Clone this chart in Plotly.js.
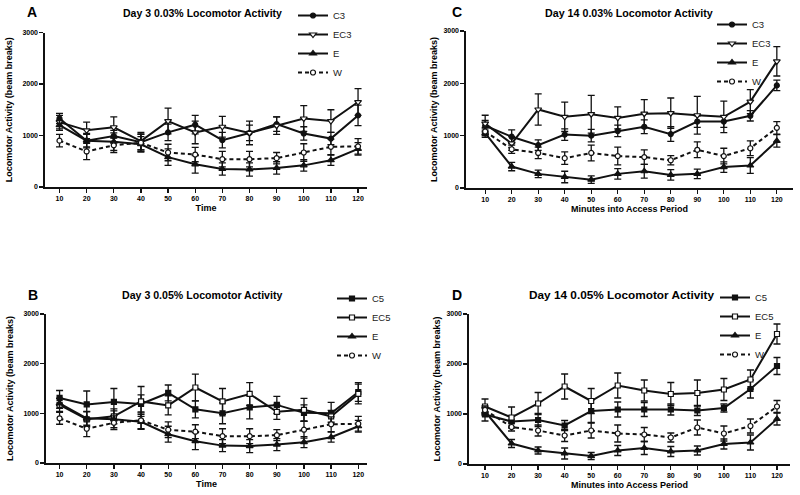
<!DOCTYPE html>
<html>
<head>
<meta charset="utf-8">
<script src="https://cdn.plot.ly/plotly-3.0.1.min.js"></script>
<style>html,body{margin:0;padding:0;background:#fff;}#chart{width:800px;height:495px;}</style>
</head>
<body>
<div id="chart"></div>
<script>
// ---- data ----
const minutes = [10, 20, 30, 40, 50, 60, 70, 80, 90, 100, 110, 120];
const tickVals = [10, 20, 30, 40, 50, 60, 70, 80, 90, 100, 110, 120];
const yTicks = [0, 1000, 2000, 3000];

// Day 3 shared groups
const d3_E = [1200, 900, 880, 830, 580, 440, 350, 340, 370, 420, 520, 740];
const d3_E_err = [100, 140, 170, 150, 160, 170, 120, 130, 120, 110, 100, 120];
const d3_W = [900, 690, 810, 860, 670, 630, 540, 540, 560, 670, 780, 790];
const d3_W_err = [120, 160, 140, 170, 160, 140, 150, 150, 110, 170, 150, 150];
// Panel A
const d3_C3 = [1330, 900, 990, 870, 1060, 1210, 910, 1050, 1220, 1040, 940, 1390];
const d3_C3_err = [100, 120, 110, 150, 160, 180, 150, 150, 140, 130, 120, 200];
const d3_EC3 = [1260, 1100, 1160, 890, 1280, 1060, 1170, 1050, 1190, 1330, 1280, 1650];
const d3_EC3_err = [130, 160, 200, 170, 250, 220, 200, 230, 170, 250, 220, 260];
// Panel B
const d3_C5 = [1310, 1180, 1230, 1190, 1410, 1080, 1000, 1120, 1170, 1010, 1000, 1430];
const d3_C5_err = [150, 270, 270, 180, 160, 170, 210, 230, 170, 160, 220, 190];
const d3_EC5 = [1170, 880, 940, 1240, 1160, 1520, 1240, 1390, 1030, 1070, 940, 1390];
const d3_EC5_err = [130, 150, 150, 300, 190, 270, 260, 230, 150, 230, 120, 200];

// Day 14 shared groups
const d14_E = [1050, 410, 270, 210, 160, 270, 320, 250, 270, 400, 430, 900];
const d14_E_err = [80, 80, 70, 110, 70, 100, 130, 100, 90, 100, 150, 120];
const d14_W = [1080, 740, 670, 570, 670, 610, 590, 530, 730, 610, 760, 1150];
const d14_W_err = [80, 80, 110, 120, 150, 170, 140, 90, 150, 150, 140, 120];
// Panel C
const d14_C3 = [1190, 980, 820, 1020, 1000, 1090, 1170, 1030, 1270, 1270, 1380, 1960];
const d14_C3_err = [100, 130, 100, 110, 120, 110, 130, 140, 110, 110, 100, 100];
const d14_EC3 = [1230, 850, 1500, 1360, 1410, 1340, 1420, 1430, 1390, 1360, 1650, 2420];
const d14_EC3_err = [160, 130, 300, 280, 360, 210, 270, 290, 360, 300, 230, 280];
// Panel D
const d14_C5 = [990, 850, 880, 770, 1060, 1090, 1090, 1090, 1070, 1120, 1500, 1960];
const d14_C5_err = [130, 110, 130, 100, 230, 150, 140, 110, 100, 80, 180, 170];
const d14_EC5 = [1150, 930, 1210, 1550, 1260, 1570, 1470, 1400, 1420, 1490, 1690, 2600];
const d14_EC5_err = [150, 210, 220, 250, 250, 250, 210, 230, 260, 220, 190, 200];

const panelTitles = ['Day 3 0.03% Locomotor Activity', 'Day 3 0.05% Locomotor Activity',
                     'Day 14 0.03% Locomotor Activity', 'Day 14 0.05% Locomotor Activity'];
const panelLetters = ['A', 'B', 'C', 'D'];
const xTitles = ['Time', 'Time', 'Minutes into Access Period', 'Minutes into Access Period'];
const yTitle = 'Locomotor Activity (beam breaks)';

// ---- styling helpers ----
const FONT = 'Liberation Sans, Arial, Helvetica, sans-serif';
const INK = '#000';
const W = 800, H = 495;
const px = v => v / W;
const py = v => 1 - v / H;

function series(name, y, err, symbol, open, dash, ax, leg) {
  return {
    type: 'scatter', mode: 'lines+markers', name: name,
    x: minutes, y: y,
    xaxis: 'x' + ax, yaxis: 'y' + ax, legend: leg,
    line: {color: '#111', width: 2, dash: dash ? '4px,3px' : 'solid'},
    marker: {symbol: symbol, size: symbol.indexOf('triangle') === 0 ? 6 : 5,
             color: open ? '#fff' : '#111', line: {color: '#111', width: 1.2}},
    error_y: {type: 'data', array: err, visible: true, color: '#111', thickness: 1.3, width: 3.5},
    cliponaxis: false
  };
}

const data = [
  series('C3', d3_C3, d3_C3_err, 'circle', false, false, '', 'legend'),
  series('EC3', d3_EC3, d3_EC3_err, 'triangle-down', true, false, '', 'legend'),
  series('E', d3_E, d3_E_err, 'triangle-up', false, false, '', 'legend'),
  series('W', d3_W, d3_W_err, 'circle', true, true, '', 'legend'),

  series('C5', d3_C5, d3_C5_err, 'square', false, false, '2', 'legend2'),
  series('EC5', d3_EC5, d3_EC5_err, 'square', true, false, '2', 'legend2'),
  series('E', d3_E, d3_E_err, 'triangle-up', false, false, '2', 'legend2'),
  series('W', d3_W, d3_W_err, 'circle', true, true, '2', 'legend2'),

  series('C3', d14_C3, d14_C3_err, 'circle', false, false, '3', 'legend3'),
  series('EC3', d14_EC3, d14_EC3_err, 'triangle-down', true, false, '3', 'legend3'),
  series('E', d14_E, d14_E_err, 'triangle-up', false, false, '3', 'legend3'),
  series('W', d14_W, d14_W_err, 'circle', true, true, '3', 'legend3'),

  series('C5', d14_C5, d14_C5_err, 'square', false, false, '4', 'legend4'),
  series('EC5', d14_EC5, d14_EC5_err, 'square', true, false, '4', 'legend4'),
  series('E', d14_E, d14_E_err, 'triangle-up', false, false, '4', 'legend4'),
  series('W', d14_W, d14_W_err, 'circle', true, true, '4', 'legend4')
];
// the first panel uses axes 'x'/'y'
data.slice(0, 4).forEach(t => { t.xaxis = 'x'; t.yaxis = 'y'; });

function xAxis(domain, range, anchor, title) {
  return {
    domain: domain, range: range, anchor: anchor,
    tickmode: 'array', tickvals: tickVals, ticktext: tickVals.map(String),
    showline: true, linecolor: '#111', linewidth: 1.6, mirror: false,
    ticks: 'outside', ticklen: 4, tickwidth: 1.3, tickcolor: '#111',
    showgrid: false, zeroline: false,
    tickfont: {family: FONT, size: 7, color: INK, weight: 'bold'},
    title: {text: title, font: {family: FONT, size: 9, color: INK, weight: 'bold'}, standoff: 3}
  };
}
function yAxis(domain, anchor, standoff) {
  return {
    domain: domain, range: [0, 3000], anchor: anchor,
    tickmode: 'array', tickvals: yTicks, ticktext: yTicks.map(String),
    showline: true, linecolor: '#111', linewidth: 1.6,
    ticks: 'outside', ticklen: 4, tickwidth: 1.3, tickcolor: '#111',
    showgrid: false, zeroline: false,
    tickfont: {family: FONT, size: 7, color: INK, weight: 'bold'},
    title: {text: yTitle, font: {family: FONT, size: 9, color: INK, weight: 'bold'}, standoff: standoff}
  };
}
function legendAt(left, top) {
  return {x: px(left), y: py(top), xanchor: 'left', yanchor: 'top',
          bgcolor: 'rgba(0,0,0,0)', borderwidth: 0,
          font: {family: FONT, size: 9.5, color: '#222'}, itemclick: false};
}

const titleAnn = [
  {t: panelTitles[0], x: 203, y: 13, s: 10.5},
  {t: panelTitles[1], x: 202, y: 295, s: 10.6},
  {t: panelTitles[2], x: 629, y: 13, s: 10.7},
  {t: panelTitles[3], x: 622, y: 295, s: 11.8}
].map(a => ({text: a.t, x: px(a.x), y: py(a.y), xref: 'paper', yref: 'paper',
  xanchor: 'center', yanchor: 'middle', showarrow: false,
  font: {family: FONT, size: a.s, color: INK, weight: 'bold'}}));
const letterPos = [[32, 12], [33, 295], [457, 12], [457, 295]];
const letterAnn = panelLetters.map((l, i) => ({text: l, x: px(letterPos[i][0]), y: py(letterPos[i][1]),
  xref: 'paper', yref: 'paper', xanchor: 'center', yanchor: 'middle', showarrow: false,
  font: {family: FONT, size: 14, color: INK, weight: 'bold'}}));

const layout = {
  width: W, height: H, margin: {l: 0, r: 0, t: 0, b: 0},
  paper_bgcolor: '#fff', plot_bgcolor: '#fff',
  showlegend: true,
  font: {family: FONT, color: INK},
  xaxis: xAxis([px(45), px(367)], [4.66, 123.3], 'y', xTitles[0]),
  yaxis: yAxis([py(187), py(32.5)], 'x', 8),
  xaxis2: xAxis([px(46), px(367)], [5.0, 123.2], 'y2', xTitles[1]),
  yaxis2: yAxis([py(463), py(314)], 'x2', 8),
  xaxis3: xAxis([px(466), px(793)], [2.77, 126.1], 'y3', xTitles[2]),
  yaxis3: yAxis([py(188), py(31)], 'x3', 4),
  xaxis4: xAxis([px(469), px(790)], [3.97, 124.9], 'y4', xTitles[3]),
  yaxis4: yAxis([py(464), py(314)], 'x4', 4),
  legend: legendAt(293, 1),
  legend2: legendAt(332, 284),
  legend3: legendAt(712, 10),
  legend4: legendAt(715, 283),
  annotations: titleAnn.concat(letterAnn)
};

Plotly.newPlot('chart', data, layout, {staticPlot: true, displayModeBar: false});
</script>
</body>
</html>
